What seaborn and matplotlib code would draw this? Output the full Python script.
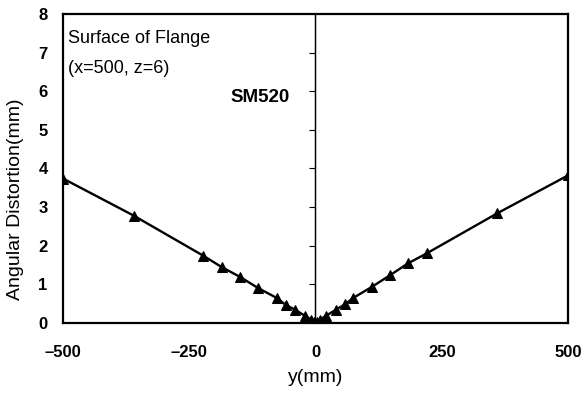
import matplotlib
matplotlib.use("Agg")
import matplotlib.pyplot as plt
import seaborn as sns
import pandas as pd

y_pos = [-500, -360, -222, -186, -149, -113, -77, -59, -40, -20, -8, -3, 0,
         3, 8, 20, 40, 59, 75, 111, 148, 184, 220, 360, 500]
distortion = [3.74, 2.78, 1.74, 1.45, 1.19, 0.90, 0.65, 0.47, 0.34, 0.18, 0.08, 0.03, 0.0,
              0.03, 0.08, 0.18, 0.34, 0.49, 0.65, 0.93, 1.24, 1.55, 1.80, 2.84, 3.82]
x_ticks = [-500, -250, 0, 250, 500]
y_ticks = [0, 1, 2, 3, 4, 5, 6, 7, 8]

sns.set_style("white")
plt.rcParams['font.family'] = ['Liberation Sans', 'DejaVu Sans']
plt.rcParams['text.color'] = 'black'
plt.rcParams['axes.labelcolor'] = 'black'
plt.rcParams['xtick.color'] = 'black'
plt.rcParams['ytick.color'] = 'black'
plt.rcParams['axes.edgecolor'] = 'black'

df = pd.DataFrame({"y": y_pos, "d": distortion})

fig = plt.figure(figsize=(5.87, 3.99), dpi=100)
ax = fig.add_axes([0.1073, 0.1905, 0.8603, 0.7745])

sns.lineplot(data=df, x="y", y="d", ax=ax, color="black", linewidth=1.7,
             marker="^", markersize=7.5, markeredgecolor="black", markerfacecolor="black")

ax.set_xlim(-500, 500)
ax.set_ylim(0, 8)
ax.set_xticks(x_ticks)
ax.set_xticklabels([("\u2013" + str(-t)) if t < 0 else str(t) for t in x_ticks],
                   fontweight='bold', fontsize=12, color='black')
ax.set_yticks(y_ticks)
ax.set_yticklabels([str(t) for t in y_ticks], fontweight='bold', fontsize=12, color='black')
ax.tick_params(axis='y', length=0, pad=11)
ax.tick_params(axis='x', direction='in', length=4, width=1, pad=16, color='black')

for s in ax.spines.values():
    s.set_color('black')
    s.set_linewidth(1.6)

ax.axvline(0, color='black', linewidth=1.0)
sec = ax.secondary_yaxis(0.5)
sec.set_yticks([1, 2, 3, 4, 5, 6, 7])
sec.set_yticklabels([])
sec.tick_params(direction='in', length=4, width=0.8, color='black')
sec.spines['left'].set_visible(False)

ax.set_xlabel("y(mm)", fontsize=14, labelpad=6, color='black')
ax.set_ylabel("Angular Distortion(mm)", fontsize=14, color='black')
ax.yaxis.set_label_coords(-0.078, 0.40)

ax.text(0.01, 7.25, "Surface of Flange", transform=ax.get_yaxis_transform(),
        fontsize=13, va='baseline', ha='left', color='black')
ax.text(0.01, 6.47, "(x=500, z=6)", transform=ax.get_yaxis_transform(),
        fontsize=13, va='baseline', ha='left', color='black')
ax.text(-109, 5.83, "SM520", fontsize=13.5, fontweight='bold', ha='center', va='center',
        color='black')

ax.grid(False)
fig.savefig("out.png", dpi=100)
